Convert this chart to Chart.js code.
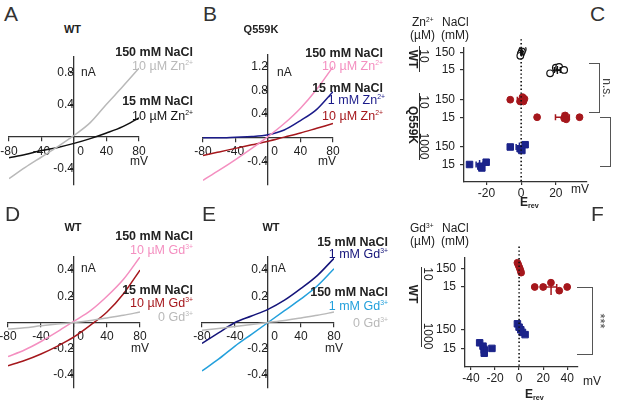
<!DOCTYPE html>
<html>
<head>
<meta charset="utf-8">
<script src="https://cdn.jsdelivr.net/npm/chart.js@4.4.1/dist/chart.umd.min.js"></script>
<style>
body{margin:0;background:#fff;}
#fig{position:relative;width:617px;height:401px;overflow:hidden;background:#fff;font-family:"Liberation Sans",Arial,sans-serif;color:#222;}
.t{position:absolute;white-space:nowrap;line-height:1;}
.t sup{font-size:0.55em;vertical-align:0;position:relative;top:-0.65em;}
.t sub{font-size:0.6em;vertical-align:0;position:relative;top:0.3em;}
.br{position:absolute;border:1.3px solid #555;border-left:none;box-sizing:border-box;}
.vl{position:absolute;width:0;border-left:1.3px solid #333;}
</style>
</head>
<body>
<div id="fig"></div>
<script>
// ---- I-V traces, current (nA) read at each voltage (mV) ----
const mV = [-80, -60, -40, -20, 0, 20, 40, 60, 80];
const aGrey  = [-0.52, -0.38, -0.25, -0.12, 0.02, 0.18, 0.41, 0.63, 0.86];
const aBlack = [-0.26, -0.22, -0.17, -0.13, -0.08, -0.02, 0.05, 0.13, 0.24];
const bPink  = [-0.72, -0.55, -0.37, -0.18, 0.02, 0.24, 0.50, 0.82, 1.20];
const bNavy  = [0.0, 0.0, 0.01, 0.02, 0.05, 0.13, 0.29, 0.48, 0.78];
const bRed   = [-0.30, -0.24, -0.18, -0.12, -0.06, 0.01, 0.08, 0.16, 0.24];
const dPink  = [-0.26, -0.21, -0.145, -0.07, 0.01, 0.09, 0.20, 0.33, 0.50];
const dRed   = [-0.33, -0.29, -0.24, -0.18, -0.11, -0.02, 0.08, 0.22, 0.40];
const dGrey  = [-0.05, -0.04, -0.025, -0.012, 0.0, 0.015, 0.035, 0.055, 0.08];
const eNavy  = [-0.16, -0.08, 0.0, 0.05, 0.10, 0.17, 0.26, 0.36, 0.49];
const eBlue  = [-0.37, -0.28, -0.18, -0.09, 0.0, 0.09, 0.18, 0.28, 0.41];
const eGrey  = [-0.06, -0.045, -0.03, -0.015, 0.0, 0.015, 0.035, 0.055, 0.08];

const ivXTicks = [-80, -40, 0, 40, 80];
const aYTicks = [-0.4, 0.4, 0.8];
const bYTicks = [-0.4, 0.4, 0.8, 1.2];
const deYTicks = [-0.4, -0.2, 0.2, 0.4];

// ---- Erev scatter (C): one row per condition ----
const cRowPos = [0, 1, 2.7, 3.7, 5.4, 6.4];
const cNaCl = ['150', '15', '150', '15', '150', '15'];
const cErev = [
  [0.9, 0.4, -0.2, -0.5],
  [16.7, 20.0, 21.9, 24.8],
  [-6.3, -0.6, 0.8, 1.3, 1.9],
  [9.2, 24.8, 25.4, 26.0, 33.7],
  [-6.3, -0.6, 0.4, 2.3],
  [-29.8, -23.3, -22.7, -20.2]
];
const cJitter = [
  [-0.19, -0.06, 0.07, 0.19],
  [0.19, -0.13, -0.17, 0.0],
  [0.0, 0.1, -0.15, 0.1, -0.05],
  [0.0, 0.05, -0.1, 0.12, 0.0],
  [0.0, 0.1, 0.2, -0.13],
  [0.0, 0.1, 0.2, -0.13]
];
const cMean = [0.2, 20.9, -0.6, 23.8, -1.0, -24.0];
const cSem = [0.4, 1.7, 1.6, 4.0, 1.9, 2.0];
const cXTicks = [-20, 0, 20];

// ---- Erev scatter (F) ----
const fRowPos = [0, 1, 3.3, 4.3];
const fNaCl = ['150', '15', '150', '15'];
const fErev = [
  [-1.4, -0.6, 0.3, 1.1, 1.7],
  [13.0, 20.0, 26.5, 33.4, 40.0],
  [-1.4, 0.0, 1.4, 2.8, 5.0],
  [-32.8, -30.0, -29.0, -29.0, -22.6]
];
const fJitter = [
  [-0.3, -0.18, -0.04, 0.1, 0.23],
  [0.0, 0.0, -0.23, 0.2, 0.0],
  [-0.32, -0.14, 0.0, 0.14, 0.26],
  [-0.3, -0.12, 0.09, 0.26, 0.0]
];
const fMean = [0.2, 26.6, 1.6, -28.7];
const fSem = [0.5, 4.7, 1.1, 1.8];
const fXTicks = [-40, -20, 0, 20, 40];

const GREY = '#b9b9b9', BLACK = '#111', PINK = '#f48fc0', NAVY = '#1b1b8a',
      RED = '#a5171c', LBLUE = '#23a0dc', ENAVY = '#14147a', SQ = '#1b238a';

Chart.defaults.font.family = '"Liberation Sans", Arial, sans-serif';
Chart.defaults.font.size = 12;
Chart.defaults.color = '#222';

const fig = document.getElementById('fig');

function place(box) {
  const c = document.createElement('canvas');
  c.width = box[2]; c.height = box[3];
  c.style.cssText = 'position:absolute;left:' + box[0] + 'px;top:' + box[1] + 'px;width:' + box[2] + 'px;height:' + box[3] + 'px';
  fig.appendChild(c);
  return c;
}
// layout padding that puts the plot area at 'area'; yW/xH = room taken by left/bottom axes
function pad(box, area, yW, xH) {
  return {left: area[0] - box[0] - (yW || 0), top: area[1] - box[1],
          right: box[0] + box[2] - area[2], bottom: box[1] + box[3] - area[3] - (xH || 0)};
}

const axisGrid = len => ({drawOnChartArea: false, drawTicks: true, tickLength: len, color: '#333', lineWidth: 1.2});
const axisBorder = {color: '#333', width: 1.3};

function ivChart(box, area, yMin, yMax, yTicks, series) {
  new Chart(place(box), {
    type: 'line',
    data: {
      datasets: series.map(s => ({
        data: mV.map((x, i) => ({x: x, y: s[0][i]})),
        borderColor: s[1], borderWidth: 1.5, pointRadius: 0,
        cubicInterpolationMode: 'monotone', fill: false
      }))
    },
    options: {
      responsive: false, animation: false,
      layout: {padding: pad(box, area)},
      plugins: {legend: {display: false}, tooltip: {enabled: false}},
      scales: {
        x: {
          type: 'linear', min: -80, max: 80, position: {y: 0},
          afterBuildTicks: s => { s.ticks = ivXTicks.map(v => ({value: v})); },
          ticks: {autoSkip: false, maxRotation: 0, padding: 3,
                  callback: v => v === 0 ? '    0' : String(v)},
          grid: axisGrid(4), border: axisBorder
        },
        y: {
          type: 'linear', min: yMin, max: yMax, position: {x: 0},
          afterBuildTicks: s => { s.ticks = yTicks.map(v => ({value: v})); },
          ticks: {autoSkip: false, padding: 1, callback: v => String(v)},
          grid: axisGrid(3), border: axisBorder
        }
      }
    }
  });
}

// dotted reference line at 0 mV
const zeroLine = {
  id: 'zeroLine',
  afterDatasetsDraw(chart, args, opts) {
    const {ctx, chartArea, scales} = chart;
    const x = scales.x.getPixelForValue(0);
    ctx.save();
    ctx.strokeStyle = '#111';
    ctx.lineWidth = 1.6;
    ctx.setLineDash([1.4, 2.4]);
    ctx.beginPath();
    ctx.moveTo(x, chartArea.top - (opts.above || 0));
    ctx.lineTo(x, chartArea.bottom);
    ctx.stroke();
    ctx.restore();
  }
};

const markStyle = {
  open: {pointStyle: 'circle', pointRadius: 3.3, backgroundColor: '#fff', borderColor: BLACK, borderWidth: 1.2, bar: BLACK},
  red: {pointStyle: 'circle', pointRadius: 3.4, backgroundColor: RED, borderColor: RED, borderWidth: 1, bar: RED},
  blue: {pointStyle: 'rect', pointRadius: 4.6, backgroundColor: SQ, borderColor: SQ, borderWidth: 1, bar: SQ}
};

function erevChart(box, area, yW, xH, xMin, xMax, xTicks, rows, rowLab, yMin, yMax,
                   vals, jit, mean, sem, styles, meanLen, above) {
  const datasets = [];
  rows.forEach((r, i) => {
    const st = markStyle[styles[i]];
    datasets.push({
      type: 'scatter', order: 2,
      data: vals[i].map((x, j) => ({x: x, y: r + jit[i][j]})),
      pointStyle: st.pointStyle, pointRadius: st.pointRadius,
      backgroundColor: st.backgroundColor, borderColor: st.borderColor, borderWidth: st.borderWidth
    });
    datasets.push({
      type: 'line', order: 0,
      data: [{x: mean[i] - sem[i], y: r}, {x: mean[i] + sem[i], y: r}],
      borderColor: st.bar, borderWidth: 1.5, pointStyle: 'line', pointRotation: 90,
      pointRadius: 3, pointBorderColor: st.bar, pointBorderWidth: 1.5
    });
    datasets.push({
      type: 'scatter', order: 0,
      data: [{x: mean[i], y: r}],
      pointStyle: 'line', rotation: 90, pointRadius: meanLen[i],
      borderColor: st.bar, borderWidth: 1.5
    });
  });
  new Chart(place(box), {
    type: 'scatter',
    data: {datasets: datasets},
    options: {
      responsive: false, animation: false,
      layout: {padding: pad(box, area, yW, xH), autoPadding: false},
      plugins: {legend: {display: false}, tooltip: {enabled: false}, zeroLine: {above: above}},
      scales: {
        x: {
          type: 'linear', min: xMin, max: xMax, position: 'bottom',
          afterBuildTicks: s => { s.ticks = xTicks.map(v => ({value: v})); },
          afterFit: s => { s.height = xH; },
          ticks: {autoSkip: false, maxRotation: 0, padding: 1, callback: v => String(v)},
          grid: axisGrid(3), border: axisBorder
        },
        y: {
          type: 'linear', min: yMin, max: yMax, reverse: true, position: 'left',
          afterBuildTicks: s => { s.ticks = rows.map(v => ({value: v})); },
          afterFit: s => { s.width = yW; },
          ticks: {autoSkip: false, padding: 5, callback: (v, i) => rowLab[i]},
          grid: axisGrid(4), border: axisBorder
        }
      }
    },
    plugins: [zeroLine]
  });
}

// ---- panels ----
ivChart([-5, 40, 205, 165], [9, 57, 139, 185], -0.6, 1.0, aYTicks,
        [[aGrey, GREY], [aBlack, BLACK]]);
ivChart([190, 40, 215, 165], [203, 55, 333, 185], -0.8, 1.4, bYTicks,
        [[bPink, PINK], [bRed, RED], [bNavy, NAVY]]);
ivChart([-5, 240, 205, 160], [8, 257, 140, 388], -0.5, 0.5, deYTicks,
        [[dGrey, GREY], [dPink, PINK], [dRed, RED]]);
ivChart([188, 240, 215, 160], [202, 257, 334, 388], -0.5, 0.5, deYTicks,
        [[eGrey, GREY], [eBlue, LBLUE], [eNavy, ENAVY]]);

erevChart([430, 35, 187, 180], [464, 43, 587, 182], 34, 33, -33, 38, cXTicks,
          cRowPos, cNaCl, -0.3, 7.4, cErev, cJitter, cMean, cSem,
          ['open', 'open', 'red', 'red', 'blue', 'blue'], [4, 4, 4.5, 4.5, 4.5, 4.5], 8);
erevChart([430, 245, 187, 156], [465, 255, 578, 367], 35, 34, -45, 49, fXTicks,
          fRowPos, fNaCl, -0.6, 5.3, fErev, fJitter, fMean, fSem,
          ['red', 'red', 'blue', 'blue'], [3, 8, 3, 3], 22);

// ---- text ----
function txt(html, x, base, opt) {
  opt = opt || {};
  const size = opt.size || 12;
  const d = document.createElement('div');
  d.className = 't';
  d.innerHTML = html;
  d.style.fontSize = size + 'px';
  if (opt.bold) d.style.fontWeight = 'bold';
  if (opt.color) d.style.color = opt.color;
  d.style.left = x + 'px';
  d.style.top = (base - 0.83 * size) + 'px';
  const tx = opt.align === 'right' ? '-100%' : opt.align === 'center' ? '-50%' : '0';
  d.style.transform = 'translateX(' + tx + ')';
  fig.appendChild(d);
}
function rot(html, cx, cy, opt) {
  opt = opt || {};
  const d = document.createElement('div');
  d.className = 't';
  d.innerHTML = html;
  d.style.fontSize = (opt.size || 12) + 'px';
  if (opt.bold) d.style.fontWeight = 'bold';
  if (opt.color) d.style.color = opt.color;
  d.style.left = cx + 'px';
  d.style.top = cy + 'px';
  d.style.transform = 'translate(-50%,-50%) rotate(90deg)';
  fig.appendChild(d);
}
function bracket(l, t, w, h) {
  const d = document.createElement('div');
  d.className = 'br';
  d.style.cssText += 'left:' + l + 'px;top:' + t + 'px;width:' + w + 'px;height:' + h + 'px';
  fig.appendChild(d);
}
function vline(x, y1, y2) {
  const d = document.createElement('div');
  d.className = 'vl';
  d.style.cssText += 'left:' + x + 'px;top:' + y1 + 'px;height:' + (y2 - y1) + 'px';
  fig.appendChild(d);
}

const L = {size: 21, color: '#333'};
txt('A', 4, 20, L); txt('B', 203, 20, L); txt('C', 590, 20, L);
txt('D', 5, 220, L); txt('E', 202, 220, L); txt('F', 591, 220, L);

const T = {size: 11, bold: true, align: 'center'};
txt('WT', 72.5, 33, T); txt('Q559K', 261, 33, T);
txt('WT', 73, 231, T); txt('WT', 271, 231, T);

const Z = '10 &micro;M Zn<sup>2+</sup>', G = '10 &micro;M Gd<sup>3+</sup>';
const hb = {size: 12.5, bold: true, align: 'right'};
const h = c => ({size: 12.5, align: 'right', color: c});

txt('150 mM NaCl', 193, 56, hb); txt(Z, 193, 70, h(GREY));
txt('15 mM NaCl', 193, 105, hb); txt(Z, 193, 120, h(BLACK));
txt('nA', 81, 76); txt('mV', 139, 165, {align: 'center'});

txt('150 mM NaCl', 383, 57, hb); txt(Z, 383, 70, h(PINK));
txt('15 mM NaCl', 383, 92, hb); txt('1 mM Zn<sup>2+</sup>', 385, 104, h(NAVY));
txt(Z, 383, 120, h(RED));
txt('nA', 277, 76); txt('mV', 327, 165, {align: 'center'});

txt('150 mM NaCl', 193, 240, hb); txt(G, 193, 254, h(PINK));
txt('15 mM NaCl', 193, 294, hb); txt(G, 193, 307, h(RED));
txt('0 Gd<sup>3+</sup>', 193, 321, h(GREY));
txt('nA', 81, 272); txt('mV', 140, 352, {align: 'center'});

txt('15 mM NaCl', 388, 246, hb); txt('1 mM Gd<sup>3+</sup>', 388, 258, h(ENAVY));
txt('150 mM NaCl', 388, 296, hb); txt('1 mM Gd<sup>3+</sup>', 388, 310, h(LBLUE));
txt('0 Gd<sup>3+</sup>', 388, 327, h(GREY));
txt('nA', 271, 272); txt('mV', 334, 352, {align: 'center'});

// C labels
txt('Zn<sup>2+</sup>', 412, 26); txt('NaCl', 442, 26);
txt('(&micro;M)', 410, 39); txt('(mM)', 441, 39);
txt('mV', 571, 193);
txt('E<sub>rev</sub>', 520, 206, {bold: true});
rot('WT', 413, 59, {bold: true}); rot('10', 424, 56);
vline(418.5, 46, 72);
rot('Q559K', 413, 125, {bold: true}); rot('10', 424, 102); rot('1000', 424, 146);
vline(418.5, 93, 160);
bracket(589, 63, 11, 50);
rot('n.s.', 607, 88, {color: '#444'});
bracket(600, 117, 11, 50);
rot('**', 617, 141, {color: '#444', size: 13});

// F labels
txt('Gd<sup>3+</sup>', 410, 232); txt('NaCl', 442, 232);
txt('(&micro;M)', 410, 245); txt('(mM)', 441, 245);
txt('mV', 583, 385);
txt('E<sub>rev</sub>', 525, 398, {bold: true});
rot('10', 428, 274); rot('WT', 413, 294, {bold: true}); rot('1000', 428, 336);
vline(420.5, 267, 347);
bracket(577, 287, 16, 68);
rot('***', 600, 321, {color: '#444', size: 13});
</script>
</body>
</html>
